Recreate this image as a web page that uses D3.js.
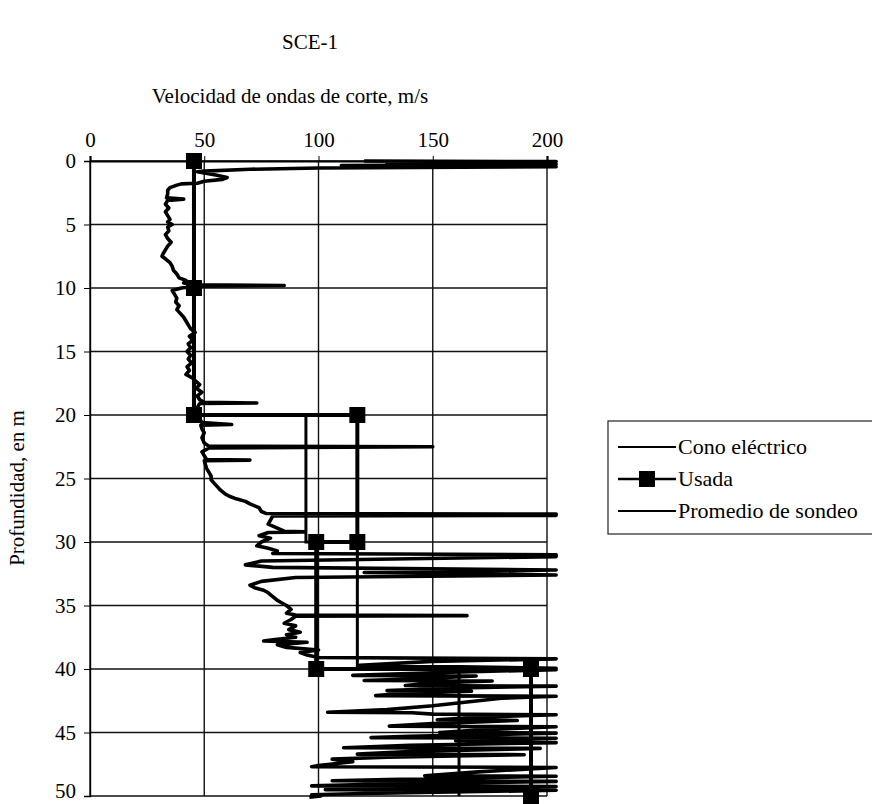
<!DOCTYPE html>
<html>
<head>
<meta charset="utf-8">
<script src="https://cdn.jsdelivr.net/npm/d3@7"></script>
<style>
  body { margin: 0; background: #fff; }
  text { font-family: "Liberation Serif", "Times New Roman", serif; fill: #000; }
</style>
</head>
<body>
<svg id="chart" width="872" height="804"></svg>
<script>
// Shear-wave velocity profile SCE-1
const velocityTicks = [0, 50, 100, 150, 200];
const depthTicks = [0, 5, 10, 15, 20, 25, 30, 35, 40, 45, 50];

// Electric cone (CPT) derived profile: [depth m, Vs m/s]
const coneProfile = [
  [0.0, 120], [0.05, 204], [0.15, 130], [0.25, 204], [0.35, 110], [0.45, 204],
  [0.55, 100], [0.65, 70], [0.8, 50], [0.85, 47], [1.1, 55], [1.3, 60], [1.45, 58],
  [1.6, 50], [1.75, 47], [1.8, 40], [1.9, 38], [2.1, 35], [2.3, 34], [2.6, 34],
  [2.9, 33.5], [3.0, 41], [3.1, 34], [3.4, 33], [3.7, 34.5], [4.0, 33], [4.3, 34],
  [4.6, 35], [4.8, 34], [5.0, 36], [5.2, 34], [5.5, 34.5], [5.8, 33], [6.1, 34],
  [6.4, 35.5], [6.7, 34], [7.0, 33], [7.3, 32], [7.5, 31.5], [7.7, 33], [8.0, 35],
  [8.3, 36], [8.6, 36.5], [8.9, 38], [9.2, 39], [9.4, 42], [9.6, 41], [9.75, 45],
  [9.8, 85], [9.85, 46], [10.0, 40], [10.2, 36], [10.5, 37], [10.8, 38], [11.1, 37.5],
  [11.4, 39], [11.7, 38], [12.0, 39.5], [12.3, 41], [12.6, 42], [12.9, 43], [13.2, 44],
  [13.5, 46], [13.8, 43.5], [14.1, 45], [14.4, 43], [14.7, 44], [15.0, 42.5], [15.3, 44],
  [15.6, 43], [15.9, 44.5], [16.2, 42.5], [16.5, 43.5], [16.8, 42], [17.1, 45], [17.3, 46],
  [17.6, 48], [17.9, 46.5], [18.2, 49], [18.5, 47], [18.8, 48], [19.0, 50], [19.05, 73],
  [19.1, 48], [19.4, 47], [19.7, 46], [20.0, 46], [20.3, 48], [20.6, 49], [20.75, 62],
  [20.8, 48.5], [21.1, 49], [21.4, 50], [21.8, 49], [22.2, 50], [22.45, 52], [22.5, 150],
  [22.6, 52], [22.9, 49], [23.2, 50], [23.5, 51], [23.55, 70], [23.6, 50], [23.9, 50.5],
  [24.2, 51], [24.5, 52], [24.8, 53], [25.1, 53], [25.4, 54.5], [25.7, 56], [25.9, 57],
  [26.2, 59], [26.4, 61], [26.6, 64], [26.8, 68], [27.0, 70], [27.3, 74], [27.6, 75],
  [27.75, 77], [27.8, 204], [27.9, 204], [27.95, 80], [28.6, 78], [29.15, 85], [29.2, 94],
  [29.25, 78], [29.5, 74], [29.7, 79], [30.0, 75], [30.3, 73], [30.5, 78], [30.7, 82],
  [30.9, 80], [31.0, 204], [31.15, 204], [31.5, 75], [31.8, 68], [32.0, 80], [32.2, 204],
  [32.4, 120], [32.6, 204], [32.8, 90], [33.1, 75], [33.4, 70], [33.6, 72], [33.8, 76],
  [34.0, 78], [34.3, 80], [34.6, 82], [34.8, 84], [35.0, 86], [35.3, 88], [35.6, 86],
  [35.75, 90], [35.8, 165], [35.85, 90], [36.1, 88], [36.4, 85], [36.6, 90], [36.9, 87],
  [37.1, 92], [37.3, 86], [37.5, 90], [37.7, 80], [37.8, 76], [37.9, 95], [38.1, 82],
  [38.3, 86], [38.5, 100], [38.7, 92], [38.9, 95], [39.1, 100], [39.2, 204], [39.4, 150],
  [39.7, 118], [39.95, 204], [40.0, 119], [40.05, 204], [40.3, 150], [40.5, 115],
  [40.55, 169], [40.8, 140], [40.9, 120], [40.95, 176], [41.1, 150], [41.3, 138],
  [41.35, 204], [41.5, 160], [41.7, 130], [41.75, 167], [41.9, 140], [42.1, 125],
  [42.15, 204], [42.3, 180], [42.6, 165], [42.9, 150], [43.2, 130], [43.4, 104],
  [43.45, 141], [43.55, 150], [43.6, 204], [43.8, 170], [44.0, 152], [44.05, 187],
  [44.3, 150], [44.5, 131], [44.55, 204], [44.8, 170], [45.0, 153], [45.05, 204],
  [45.3, 140], [45.4, 123], [45.45, 204], [45.65, 160], [45.8, 204], [46.0, 140],
  [46.2, 111], [46.25, 197], [46.5, 140], [46.7, 117], [46.75, 190], [46.95, 130],
  [47.1, 106], [47.3, 115], [47.6, 100], [47.7, 97], [47.75, 204], [48.1, 170],
  [48.4, 146.5], [48.45, 204], [48.7, 130], [48.8, 106], [48.85, 204], [49.1, 120],
  [49.2, 97], [49.25, 204], [49.4, 130], [49.5, 103], [49.55, 204], [49.8, 120],
  [49.9, 97], [50.0, 101], [50.1, 96]
];

// Velocity used in the analysis
const usadaDepth = [0, 10, 20, 20, 30, 30, 40, 40, 50];
const usadaVs = [45.5, 45.5, 45.5, 117, 117, 99, 99, 193, 193];

// Borehole average
const promedioDepth = [0, 20, 20, 30, 30, 40, 40, 50];
const promedioVs = [45.5, 45.5, 94.5, 94.5, 117, 117, 161.5, 161.5];

const seriesNames = ["Cono eléctrico", "Usada", "Promedio de sondeo"];

const svg = d3.select("#chart");
const plot = { left: 90, right: 547, top: 161, bottom: 796 };

const x = d3.scaleLinear().domain([0, 200]).range([plot.left, plot.right]);
const y = d3.scaleLinear().domain([0, 50]).range([plot.top, plot.bottom]);

// Title and axis titles
svg.append("text").attr("x", 310).attr("y", 49).attr("text-anchor", "middle")
  .attr("font-size", 21).text("SCE-1");
svg.append("text").attr("x", 290).attr("y", 103).attr("text-anchor", "middle")
  .attr("font-size", 21).text("Velocidad de ondas de corte, m/s");
svg.append("text").attr("transform", "translate(24,488) rotate(-90)")
  .attr("text-anchor", "middle").attr("font-size", 21).text("Profundidad, en m");

// Gridlines
const grid = svg.append("g").attr("stroke", "#111").attr("stroke-width", 1.4);
grid.selectAll(".gx").data(velocityTicks).join("line")
  .attr("x1", d => x(d)).attr("x2", d => x(d))
  .attr("y1", plot.top).attr("y2", plot.bottom);
grid.selectAll(".gy").data(depthTicks).join("line")
  .attr("x1", plot.left).attr("x2", plot.right)
  .attr("y1", d => y(d)).attr("y2", d => y(d));

// Axes
const xAxis = d3.axisTop(x).tickValues(velocityTicks).tickSize(5).tickPadding(9);
const gx = svg.append("g").attr("transform", `translate(0,${plot.top})`).call(xAxis);
gx.select(".domain").attr("stroke-width", 2.2);
gx.selectAll("text").attr("font-size", 21).attr("font-family", "Liberation Serif");

const yAxis = d3.axisLeft(y).tickValues(depthTicks).tickSize(6).tickPadding(8);
const gy = svg.append("g").attr("transform", `translate(${plot.left},0)`).call(yAxis);
gy.select(".domain").attr("stroke-width", 1.4);
gy.selectAll("text").attr("font-size", 21).attr("font-family", "Liberation Serif");
// keep the bottom label inside the page
gy.selectAll(".tick").filter(d => d === 50).select("text").attr("dy", "0.08em");

// Series
const profileLine = d3.line().x(d => x(d[1])).y(d => y(d[0]));
svg.append("path").datum(coneProfile).attr("d", profileLine)
  .attr("fill", "none").attr("stroke", "#000").attr("stroke-width", 3.6)
  .attr("stroke-linejoin", "round");

const usada = usadaDepth.map((d, i) => [d, usadaVs[i]]);
const promedio = promedioDepth.map((d, i) => [d, promedioVs[i]]);

svg.append("path").datum(usada).attr("d", profileLine)
  .attr("fill", "none").attr("stroke", "#000").attr("stroke-width", 4);
svg.selectAll(".mk").data(usada).join("rect")
  .attr("x", d => x(d[1]) - 8).attr("y", d => y(d[0]) - 8)
  .attr("width", 16).attr("height", 16).attr("fill", "#000");

svg.append("path").datum(promedio).attr("d", profileLine)
  .attr("fill", "none").attr("stroke", "#000").attr("stroke-width", 3);

// Legend
const lg = svg.append("g").attr("transform", "translate(608,421)");
lg.append("rect").attr("width", 280).attr("height", 113)
  .attr("fill", "#fff").attr("stroke", "#222").attr("stroke-width", 1.2);
seriesNames.forEach((name, i) => {
  const yy = 26 + i * 32;
  lg.append("line").attr("x1", 10).attr("x2", 68).attr("y1", yy).attr("y2", yy)
    .attr("stroke", "#000").attr("stroke-width", i === 1 ? 2.5 : 2);
  if (i === 1) {
    lg.append("rect").attr("x", 31).attr("y", yy - 8).attr("width", 16).attr("height", 16)
      .attr("fill", "#000");
  }
  lg.append("text").attr("x", 70).attr("y", yy + 7).attr("font-size", 22).text(name);
});
</script>
</body>
</html>
